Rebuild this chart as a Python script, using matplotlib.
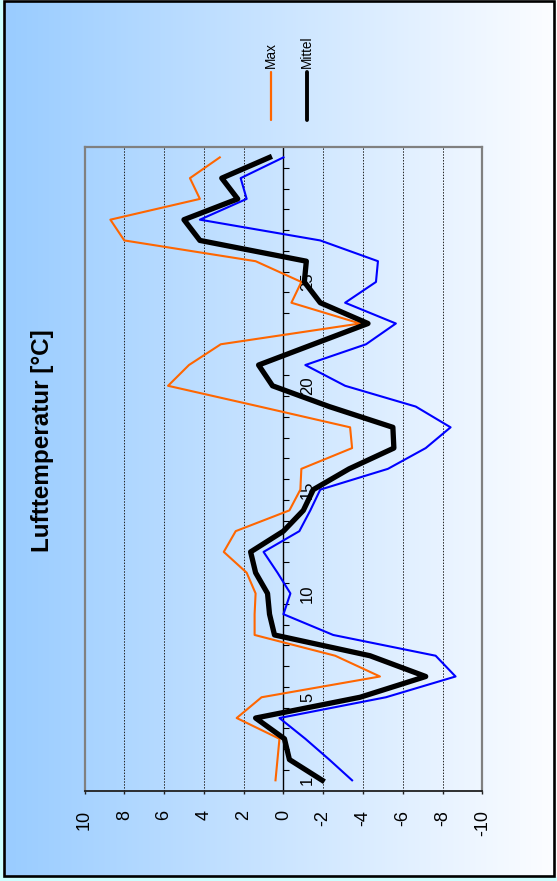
import numpy as np
import matplotlib
matplotlib.use('Agg')
import matplotlib.pyplot as plt
from matplotlib.patches import Rectangle
from matplotlib.lines import Line2D

plt.rcParams['font.family'] = ['Liberation Sans', 'DejaVu Sans']
plt.rcParams['axes.unicode_minus'] = False

# ---------------- data ----------------
days = list(range(1, 32))
day_labels = [1, 5, 10, 15, 20, 25]
max_t = [0.4, 0.3, 0.2, 2.35, 1.1, -4.85, -2.6, 1.45, 1.45, 1.4, 1.85, 3.0, 2.4, -0.3, -0.85, -0.9,
         -3.45, -3.35, 1.2, 5.8, 4.75, 3.15, -3.85, -0.4, -0.9, 1.4, 8.0, 8.7, 4.2, 4.7, 3.2]
min_t = [-3.45, -2.3, -1.1, 0.2, -5.15, -8.65, -7.65, -2.5, 0.0, -0.35, 0.3, 1.0, -0.8, -1.35, -1.85, -5.25,
         -7.15, -8.4, -6.65, -3.1, -1.1, -4.15, -5.65, -3.1, -4.65, -4.75, -1.85, 4.2, 1.85, 2.15, 0.0]
mean_t = [-1.95, -0.3, -0.05, 1.4, -3.85, -7.15, -4.35, 0.45, 0.7, 0.8, 1.4, 1.65, 0.0, -1.0, -1.5, -3.3,
          -5.55, -5.5, -2.3, 0.55, 1.25, -1.5, -4.25, -1.85, -1.05, -1.15, 4.2, 5.0, 2.3, 3.1, 0.7]
temp_ticks = [10, 8, 6, 4, 2, 0, -2, -4, -6, -8, -10]
temp_tick_labels = ['10', '8', '6', '4', '2', '0', '-2', '-4', '-6', '-8', '-10']
title = 'Lufttemperatur [°C]'
legend_names = ['Max', 'Mittel']

C_MAX = '#FF6600'
C_MIN = '#0000FF'
C_MEAN = '#000000'

# ---------------- figure ----------------
W, H = 557, 881
fig = plt.figure(figsize=(W / 100, H / 100), dpi=100)
fig.patch.set_facecolor('white')


def fx(px):
    return px / W


def fy(py):
    return 1 - py / H


# cyan shadow strips
fig.add_artist(Rectangle((0, 0), fx(3), 1, transform=fig.transFigure,
                         facecolor='#CCFFFF', edgecolor='none', zorder=0))
fig.add_artist(Rectangle((0, 0), 1, 4.5 / H, transform=fig.transFigure,
                         facecolor='#CCFFFF', edgecolor='none', zorder=0))

# gradient background
bg = fig.add_axes([fx(3.5), fy(876), fx(553.5) - fx(3.5), fy(1) - fy(876)])
bg.set_zorder(0)
c0 = np.array([153, 204, 255]) / 255.0
c1 = np.array([252, 253, 255]) / 255.0
t = np.linspace(0, 1, 512)[None, :, None]
grad = c0[None, None, :] * (1 - t) + c1[None, None, :] * t
bg.imshow(grad, aspect='auto', extent=[0, 1, 0, 1])
bg.set_xlim(0, 1)
bg.set_ylim(0, 1)
bg.axis('off')

fig.add_artist(Rectangle((fx(3.5), fy(876)), fx(553.5) - fx(3.5), fy(1.2) - fy(876),
                         transform=fig.transFigure, fill=False, edgecolor='black',
                         linewidth=1.9, zorder=5))

# ---------------- main axes ----------------
ax = fig.add_axes([fx(84.5), fy(790.7), fx(482.4) - fx(84.5), fy(147) - fy(790.7)])
ax.set_zorder(2)
ax.set_facecolor('none')
ax.set_xlim(10, -10)
ax.set_ylim(0.5, 31.5)

for tt in temp_ticks:
    if tt not in (10, 0, -10):
        ax.axvline(tt, color='#222222', lw=0.7, ls=(0, (1.5, 1.5)), zorder=1)

ax.plot(max_t, days, color=C_MAX, lw=1.5, zorder=3)
ax.plot(min_t, days, color=C_MIN, lw=1.5, zorder=3)
ax.plot(mean_t, days, color=C_MEAN, lw=3.8, zorder=4)

gray = '#808080'
ax.spines['top'].set_color(gray)
ax.spines['top'].set_linewidth(1.6)
ax.spines['left'].set_color(gray)
ax.spines['left'].set_linewidth(1.6)
ax.spines['bottom'].set_color('#202020')
ax.spines['bottom'].set_linewidth(1.3)
ax.spines['right'].set_position(('data', 0))
ax.spines['right'].set_color('black')
ax.spines['right'].set_linewidth(1.0)
ax.add_line(Line2D([1, 1], [0, 1], transform=ax.transAxes, color=gray, lw=1.6, clip_on=False))

ax.yaxis.tick_right()
ax.set_yticks(day_labels)
ax.set_yticklabels([str(d) for d in day_labels], rotation=90, fontsize=12, va='center')
ax.set_yticks(np.arange(1.5, 31.0, 1.0), minor=True)
ax.tick_params(axis='y', which='major', length=0, pad=12)
ax.tick_params(axis='y', which='minor', length=4.3, width=0.8, direction='out', color='black')

ax.set_xticks(temp_ticks)
ax.set_xticklabels(temp_tick_labels, rotation=90, fontsize=13)
ax.tick_params(axis='x', length=2.5, width=1.0, direction='out', pad=11.5, color='#202020')

# ---------------- title ----------------
fig.text(fx(43), fy(441), title, rotation=90, ha='center', va='center',
         fontsize=17.5, fontweight='bold', zorder=6)

# ---------------- legend ----------------
leg_x = [270.7, 306.7]
leg_col = [C_MAX, C_MEAN]
leg_lw = [1.6, 2.8]
for name, x, c, lw in zip(legend_names, leg_x, leg_col, leg_lw):
    fig.add_artist(Line2D([fx(x), fx(x)], [fy(72), fy(120)], transform=fig.transFigure,
                          color=c, lw=lw, solid_capstyle='round', zorder=6))
    fig.text(fx(x), fy(68.5), name, rotation=90, ha='center', va='bottom',
             fontsize=9.8, zorder=6)

fig.savefig('out.png', dpi=100)
